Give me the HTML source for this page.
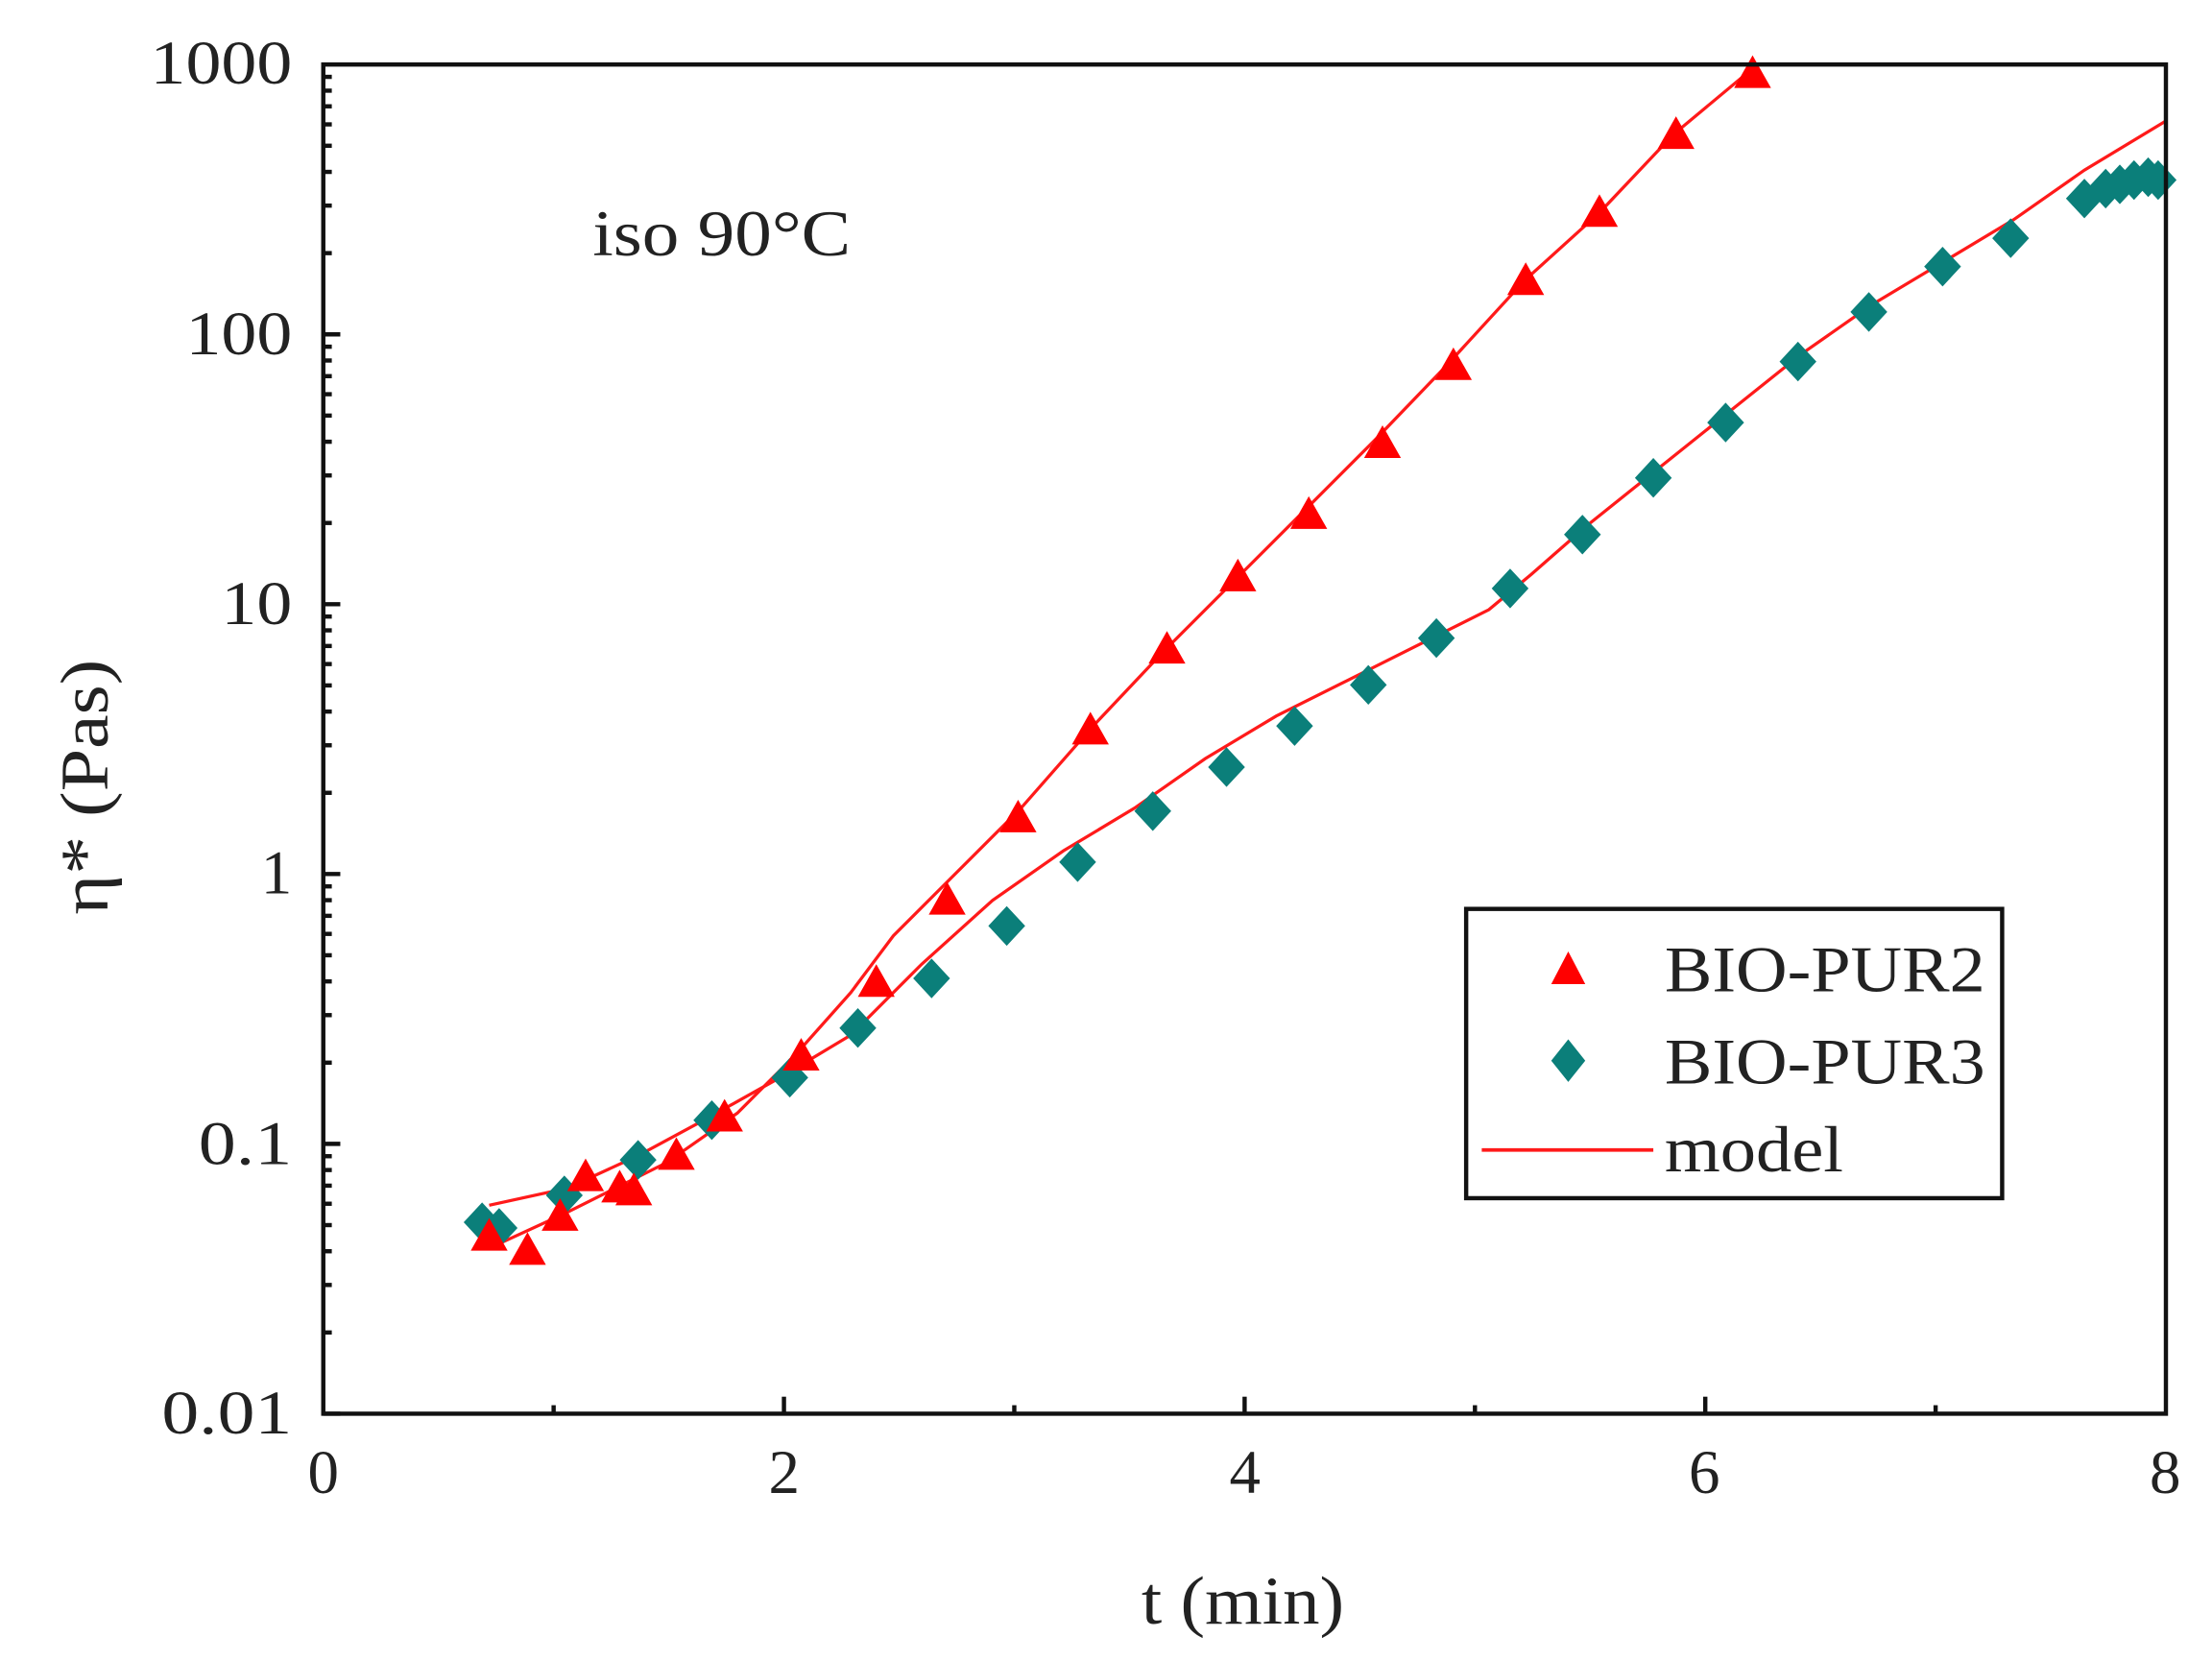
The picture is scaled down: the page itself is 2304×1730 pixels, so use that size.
<!DOCTYPE html>
<html><head><meta charset="utf-8"><style>
html,body{margin:0;padding:0;background:#fff;}
svg{display:block;}
text{font-family:"Liberation Serif",serif;fill:#222;}
</style></head><body>
<svg width="2304" height="1730" viewBox="0 0 1560 1171.4" preserveAspectRatio="none" xmlns="http://www.w3.org/2000/svg">
<rect x="0" y="0" width="1560" height="1172" fill="#fff"/>
<g id="ticks" stroke="#111" stroke-width="3"></g>
<polyline fill="none" stroke="#ff1a1a" stroke-width="2.2" points="350,878 400,855 470,820 520,785 560,745 600,700 630,660 670,620 720,570 770,513 820,460 870,410 920,360 970,310 1020,258 1075,198 1128,150 1180,95 1240,45"/>
<polyline fill="none" stroke="#ff1a1a" stroke-width="2.2" points="345,850 400,838 450,815 500,788 550,760 600,730 650,680 700,635 750,600 800,570 850,535 900,505 950,480 1000,455 1050,430 1080,405 1120,370 1170,330 1220,290 1270,250 1320,215 1370,185 1420,155 1470,120 1528,85"/>
<g id="pts"></g>
<rect x="228" y="45.5" width="1299.5" height="951.5" fill="none" stroke="#111" stroke-width="3"/>
<g font-size="44" text-anchor="end" lengthAdjust="spacingAndGlyphs">
<text x="206" y="59" textLength="100" lengthAdjust="spacingAndGlyphs">1000</text>
<text x="206" y="250" textLength="75" lengthAdjust="spacingAndGlyphs">100</text>
<text x="206" y="440" textLength="50" lengthAdjust="spacingAndGlyphs">10</text>
<text x="206" y="630">1</text>
<text x="206" y="821" textLength="66" lengthAdjust="spacingAndGlyphs">0.1</text>
<text x="206" y="1011" textLength="92" lengthAdjust="spacingAndGlyphs">0.01</text>
</g>
<g font-size="44" text-anchor="middle">
<text x="228" y="1053">0</text>
<text x="553" y="1053">2</text>
<text x="878" y="1053">4</text>
<text x="1202" y="1053">6</text>
<text x="1527" y="1053">8</text>
</g>
<text x="805" y="1145" font-size="48" textLength="143" lengthAdjust="spacingAndGlyphs">t (min)</text>
<text transform="translate(76,645) rotate(-90)" font-size="48" textLength="180" lengthAdjust="spacingAndGlyphs">η* (Pas)</text>
<text x="418" y="180" font-size="46" textLength="182" lengthAdjust="spacingAndGlyphs">iso 90°C</text>
<rect x="1034" y="641" width="378" height="204" fill="#fff" stroke="#111" stroke-width="3"/>
<polygon points="1106,671 1118,694 1094,694" fill="#ff0000"/>
<polygon points="1106,733 1118,748 1106,763 1094,748" fill="#0b7f7a"/>
<line x1="1045" y1="811" x2="1166" y2="811" stroke="#ff1a1a" stroke-width="2.5"/>
<g font-size="46">
<text x="1174" y="699" textLength="226" lengthAdjust="spacingAndGlyphs">BIO-PUR2</text>
<text x="1174" y="764" textLength="226" lengthAdjust="spacingAndGlyphs">BIO-PUR3</text>
<text x="1174" y="826" textLength="126" lengthAdjust="spacingAndGlyphs">model</text>
</g>
</svg>
<script>
var ns="http://www.w3.org/2000/svg";
var tk=document.getElementById('ticks');
function ln(x1,y1,x2,y2){var l=document.createElementNS(ns,'line');l.setAttribute('x1',x1);l.setAttribute('y1',y1);l.setAttribute('x2',x2);l.setAttribute('y2',y2);tk.appendChild(l);}
var dec=190.3;
for(var d=0;d<5;d++){for(var k=1;k<10;k++){var y=997-(d+Math.log10(k))*dec;ln(228,y,228+(k==1?12:6),y);}}
for(var t=1;t<8;t++){var x=228+t*162.44;ln(x,997,x,997-(t%2==0?12:6));}
var pts=document.getElementById('pts');
var red=[[345,872],[372,882],[395,858],[413,830],[437,838],[447,840],[477,815],[511,788],[565,745],[618,693],[668,635],[718,577],[769,515],[823,458],[873,407],[923,363],[975,313],[1025,258],[1076,198],[1128,150],[1182,95],[1236,52]];
var teal=[[340,862],[352,866],[398,843],[450,818],[502,790],[557,760],[605,725],[657,690],[710,653],[760,608],[813,572],[865,541],[913,512],[965,483],[1013,450],[1065,415],[1116,377],[1166,337],[1217,298],[1268,255],[1318,220],[1370,188],[1418,168],[1470,140],[1485,133],[1495,130],[1505,127],[1515,125],[1522,127]];
teal.forEach(function(p){var e=document.createElementNS(ns,'polygon');var x=p[0],y=p[1];e.setAttribute('points',(x)+','+(y-14)+' '+(x+13)+','+y+' '+x+','+(y+14)+' '+(x-13)+','+y);e.setAttribute('fill','#0b7f7a');pts.appendChild(e);});
red.forEach(function(p){var e=document.createElementNS(ns,'polygon');var x=p[0],y=p[1];e.setAttribute('points',x+','+(y-13)+' '+(x+13)+','+(y+10)+' '+(x-13)+','+(y+10));e.setAttribute('fill','#ff0000');pts.appendChild(e);});
</script>
</body></html>
